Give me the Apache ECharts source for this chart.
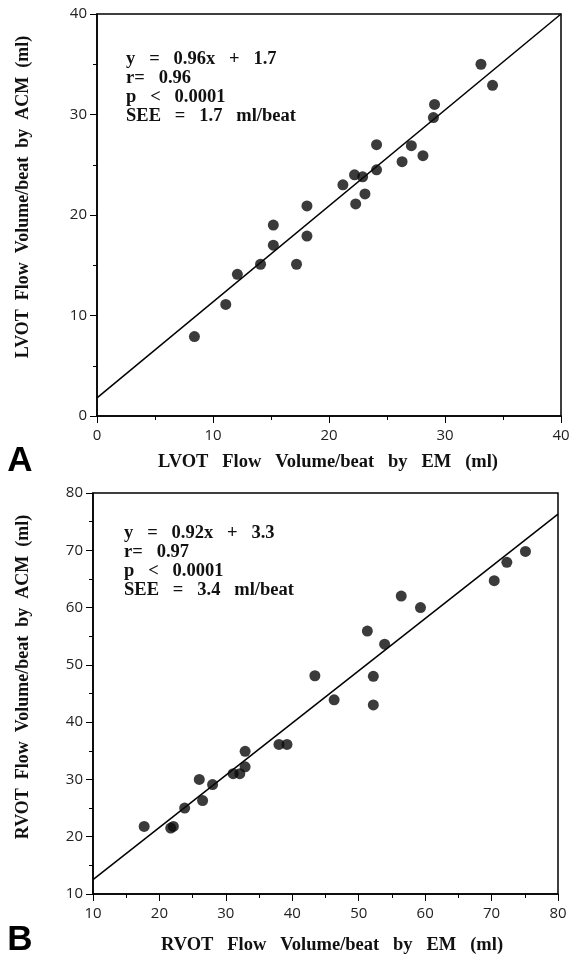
<!DOCTYPE html>
<html>
<head>
<meta charset="utf-8">
<script src="https://cdn.jsdelivr.net/npm/echarts@6/dist/echarts.min.js"></script>
<style>
  html, body { margin: 0; padding: 0; background: #fff; }
  #chart { width: 579px; height: 957px; }
</style>
</head>
<body>
<div id="chart"></div>
<script>
// panel A - LVOT
const lvotEM  = [8.4, 11.1, 12.1, 14.1, 15.2, 15.2, 17.2, 18.1, 18.1, 21.2, 22.2, 22.9, 22.3, 23.1, 24.1, 24.1, 26.3, 27.1, 28.1, 29.0, 29.1, 33.1, 34.1];
const lvotACM = [7.9, 11.1, 14.1, 15.1, 19.0, 17.0, 15.1, 20.9, 17.9, 23.0, 24.0, 23.8, 21.1, 22.1, 27.0, 24.5, 25.3, 26.9, 25.9, 29.7, 31.0, 35.0, 32.9];
const lvotFit = [[0, 1.8], [40, 40]];
const lvotStats = ["y   =   0.96x   +   1.7", "r=   0.96", "p   <   0.0001", "SEE   =   1.7   ml/beat"];

// panel B - RVOT
const rvotEM  = [17.7, 21.7, 22.1, 23.8, 26.0, 26.5, 28.0, 31.1, 32.1, 32.9, 32.9, 38.0, 39.2, 43.4, 46.3, 51.3, 52.2, 52.2, 53.9, 56.4, 59.3, 70.4, 72.3, 75.1];
const rvotACM = [21.8, 21.5, 21.8, 25.0, 30.0, 26.3, 29.1, 31.0, 31.0, 32.2, 34.9, 36.1, 36.1, 48.1, 43.9, 55.9, 48.0, 43.0, 53.6, 62.0, 60.0, 64.7, 67.9, 69.8];
const rvotFit = [[10, 12.5], [80, 76.3]];
const rvotStats = ["y   =   0.92x   +   3.3", "r=   0.97", "p   <   0.0001", "SEE   =   3.4   ml/beat"];

const chart = echarts.init(document.getElementById("chart"));

const serif = "'Liberation Serif', 'DejaVu Serif', serif";
const sans = "'Open Sans', 'DejaVu Sans', sans-serif";

function valAxis(idx, min, max, isY) {
  return {
    type: "value",
    gridIndex: idx,
    min: min,
    max: max,
    interval: 10,
    axisLine: { show: true, onZero: false, lineStyle: { color: "#000", width: 1.5 } },
    axisTick: { show: true, length: 7, lineStyle: { color: "#000", width: 1 } },
    minorTick: { show: true, splitNumber: 2, length: 4, lineStyle: { color: "#000", width: 1 } },
    splitLine: { show: false },
    axisLabel: {
      color: "#222",
      fontFamily: sans,
      fontSize: 15,
      margin: isY ? 10 : 12
    }
  };
}

function statsText(lines, x, y) {
  return {
    type: "text",
    left: x,
    top: y,
    style: {
      text: lines.join("\n"),
      font: "bold 18.5px " + serif,
      lineHeight: 19,
      fill: "#111"
    }
  };
}

chart.setOption({
  animation: false,
  backgroundColor: "#fff",
  grid: [
    { left: 97, top: 14, width: 464, height: 402, show: true, borderColor: "#000", borderWidth: 1.5 },
    { left: 93, top: 493, width: 465, height: 401, show: true, borderColor: "#000", borderWidth: 1.5 }
  ],
  xAxis: [valAxis(0, 0, 40, false), valAxis(1, 10, 80, false)],
  yAxis: [valAxis(0, 0, 40, true), valAxis(1, 10, 80, true)],
  series: [
    {
      type: "scatter",
      xAxisIndex: 0,
      yAxisIndex: 0,
      symbolSize: 11,
      itemStyle: { color: "#0a0a0a" },
      data: lvotEM.map((x, i) => [x, lvotACM[i]]),
      z: 3
    },
    {
      type: "line",
      xAxisIndex: 0,
      yAxisIndex: 0,
      symbol: "none",
      lineStyle: { color: "#000", width: 1.5 },
      data: lvotFit,
      z: 2
    },
    {
      type: "scatter",
      xAxisIndex: 1,
      yAxisIndex: 1,
      symbolSize: 11,
      itemStyle: { color: "#0a0a0a" },
      data: rvotEM.map((x, i) => [x, rvotACM[i]]),
      z: 3
    },
    {
      type: "line",
      xAxisIndex: 1,
      yAxisIndex: 1,
      symbol: "none",
      lineStyle: { color: "#000", width: 1.5 },
      data: rvotFit,
      z: 2
    }
  ],
  graphic: [
    statsText(lvotStats, 126, 50),
    statsText(rvotStats, 124, 524),
    // axis titles
    {
      type: "text",
      x: 328, y: 462,
      style: { text: "LVOT   Flow   Volume/beat   by   EM   (ml)", font: "bold 18.5px " + serif, fill: "#111", align: "center", verticalAlign: "middle" }
    },
    {
      type: "text",
      x: 332, y: 945,
      style: { text: "RVOT   Flow   Volume/beat   by   EM   (ml)", font: "bold 18.5px " + serif, fill: "#111", align: "center", verticalAlign: "middle" }
    },
    {
      type: "text",
      x: 23, y: 197, rotation: Math.PI / 2,
      style: { text: "LVOT  Flow  Volume/beat  by  ACM  (ml)", font: "bold 18px " + serif, fill: "#111", align: "center", verticalAlign: "middle" }
    },
    {
      type: "text",
      x: 23, y: 677, rotation: Math.PI / 2,
      style: { text: "RVOT  Flow  Volume/beat  by  ACM  (ml)", font: "bold 18px " + serif, fill: "#111", align: "center", verticalAlign: "middle" }
    },
    // panel letters
    {
      type: "text",
      x: 20, y: 461,
      style: { text: "A", font: "bold 35px 'Liberation Sans', Arial, sans-serif", fill: "#000", align: "center", verticalAlign: "middle" }
    },
    {
      type: "text",
      x: 20, y: 940,
      style: { text: "B", font: "bold 35px 'Liberation Sans', Arial, sans-serif", fill: "#000", align: "center", verticalAlign: "middle" }
    }
  ]
});
</script>
</body>
</html>
